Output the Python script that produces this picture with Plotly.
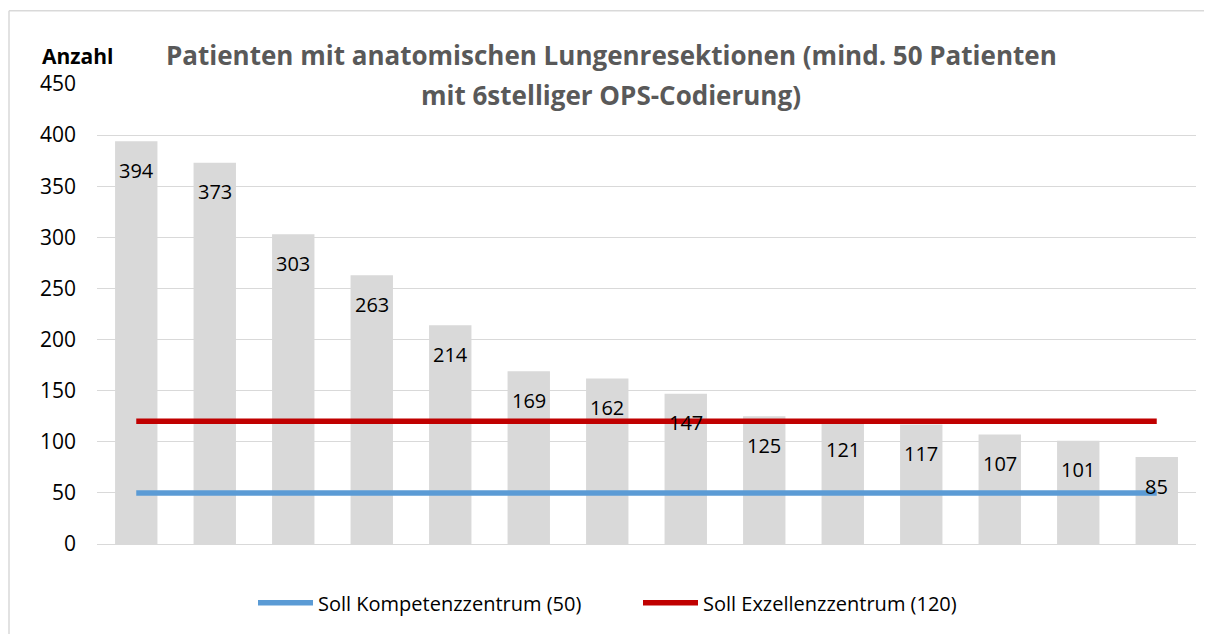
import plotly.graph_objects as go

categories = ["K1", "K2", "K3", "K4", "K5", "K6", "K7", "K8", "K9", "K10", "K11", "K12", "K13", "K14"]
patienten = [394, 373, 303, 263, 214, 169, 162, 147, 125, 121, 117, 107, 101, 85]
soll_kompetenz = [50, 50, 50, 50, 50, 50, 50, 50, 50, 50, 50, 50, 50, 50]
soll_exzellenz = [120, 120, 120, 120, 120, 120, 120, 120, 120, 120, 120, 120, 120, 120]
y_ticks = [0, 50, 100, 150, 200, 250, 300, 350, 400, 450]

FONT = "Open Sans"

# page body has an 8px margin; positions below are page pixels
OFF = 8
FIG_W, FIG_H = 1212 - OFF, 634 - OFF
PL, PR, PT, PB = 97, 1196, 84, 546
PW, PH = PR - PL, PB - PT


def px(x):
    return (x - PL) / PW


def py(y):
    return (PB - y) / PH


fig = go.Figure()
fig.add_trace(go.Bar(
    x=categories, y=patienten, marker=dict(color="#D9D9D9", line=dict(width=0)),
    showlegend=False, hoverinfo="y",
))
fig.add_trace(go.Scatter(
    x=categories, y=soll_kompetenz, mode="lines", name="Soll Kompetenzzentrum (50)",
    line=dict(color="#5B9BD5", width=5.5),
))
fig.add_trace(go.Scatter(
    x=categories, y=soll_exzellenz, mode="lines", name="Soll Exzellenzzentrum (120)",
    line=dict(color="#C00000", width=5.5),
))

annotations = [
    dict(x=c, y=v, xref="x", yref="y", text=str(v), showarrow=False,
         xanchor="center", yanchor="middle", yshift=-29,
         font=dict(family=FONT, size=20, color="#000000"))
    for c, v in zip(categories, patienten)
]
annotations += [
    dict(text="<b>Patienten mit anatomischen Lungenresektionen (mind. 50 Patienten</b>",
         xref="paper", yref="paper", x=px(611), y=py(55),
         xanchor="center", yanchor="middle", showarrow=False,
         font=dict(family=FONT, size=26, color="#595959")),
    dict(text="<b>mit 6stelliger OPS-Codierung)</b>",
         xref="paper", yref="paper", x=px(611), y=py(95),
         xanchor="center", yanchor="middle", showarrow=False,
         font=dict(family=FONT, size=26, color="#595959")),
    dict(text="<b>Anzahl</b>",
         xref="paper", yref="paper", x=px(77), y=py(56),
         xanchor="center", yanchor="middle", showarrow=False,
         font=dict(family=FONT, size=21, color="#000000")),
]

fig.update_layout(
    width=FIG_W, height=FIG_H,
    margin=dict(l=PL - OFF, r=(OFF + FIG_W) - PR, t=PT - OFF, b=(OFF + FIG_H) - PB),
    paper_bgcolor="white", plot_bgcolor="white",
    font=dict(family=FONT, size=20, color="#000000"),
    bargap=0.46,
    legend=dict(orientation="h", x=px(253), xanchor="left", y=py(605), yanchor="middle",
                font=dict(family=FONT, size=20, color="#000000"),
                itemwidth=55, entrywidth=315, entrywidthmode="pixels", traceorder="normal"),
    xaxis=dict(showticklabels=False, showgrid=False, zeroline=False, showline=False, ticks=""),
    yaxis=dict(range=[0, 450], tickvals=y_ticks, showgrid=True, gridcolor="#D9D9D9", gridwidth=1,
               zeroline=True, zerolinecolor="#D9D9D9", zerolinewidth=1, showline=False, ticks="",
               tickfont=dict(family=FONT, size=21, color="#000000"), ticklabelstandoff=20),
    annotations=annotations,
    shapes=[
        dict(type="line", xref="paper", yref="paper",
             x0=px(9), x1=px(1240), y0=py(10.5), y1=py(10.5),
             line=dict(color="#D9D9D9", width=1.5), layer="below"),
        dict(type="line", xref="paper", yref="paper",
             x0=px(9), x1=px(9), y0=py(10.5), y1=py(660),
             line=dict(color="#D9D9D9", width=1.5), layer="below"),
    ],
)

fig.write_html("out.html")
